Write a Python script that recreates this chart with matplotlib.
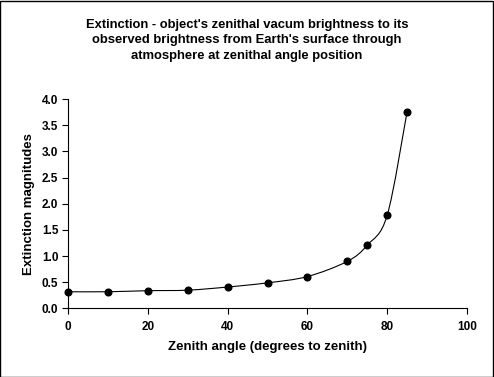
import numpy as np
import matplotlib.pyplot as plt
from matplotlib.path import Path
from matplotlib.patches import PathPatch, Rectangle

# data
zenith_angle = [0, 10, 20, 30, 40, 50, 60, 70, 75, 80, 85]
extinction = [0.32, 0.32, 0.34, 0.35, 0.41, 0.49, 0.61, 0.90, 1.21, 1.78, 3.76]

title = ("Extinction - object's zenithal vacum brightness to its\n"
         "observed brightness from Earth's surface through\n"
         "atmosphere at zenithal angle position")
x_label = "Zenith angle (degrees to zenith)"
y_label = "Extinction magnitudes"
x_ticks = [0, 20, 40, 60, 80, 100]
y_ticks = [0.0, 0.5, 1.0, 1.5, 2.0, 2.5, 3.0, 3.5, 4.0]

plt.rcParams["font.family"] = ["Liberation Sans", "DejaVu Sans"]
plt.rcParams["font.weight"] = "bold"


def smooth_path(xs, ys):
    """Catmull-Rom style cubic Bezier through the points (like a smoothed line)."""
    pts = np.column_stack([xs, ys]).astype(float)
    n = len(pts)
    verts = [pts[0]]
    codes = [Path.MOVETO]
    for i in range(n - 1):
        p0 = pts[i - 1] if i > 0 else pts[i]
        p1 = pts[i]
        p2 = pts[i + 1]
        p3 = pts[i + 2] if i + 2 < n else pts[i + 1]
        c1 = p1 + (p2 - p0) / 6.0
        c2 = p2 - (p3 - p1) / 6.0
        verts += [c1, c2, p2]
        codes += [Path.CURVE4] * 3
    return Path(verts, codes)


fig = plt.figure(figsize=(4.94, 3.77), dpi=100)
ax = fig.add_axes([0.1377, 0.1817, 0.8076, 0.5557])

ax.add_patch(PathPatch(smooth_path(zenith_angle, extinction), facecolor="none",
                       edgecolor="black", linewidth=0.8))
ax.plot(zenith_angle, extinction, linestyle="none", marker="o", markersize=4.8,
        color="black", clip_on=False, zorder=3)

ax.set_xlim(0, 100)
ax.set_ylim(0, 4.0)
ax.set_xticks(x_ticks)
ax.set_xticklabels([str(t) for t in x_ticks])
ax.set_yticks(y_ticks)
ax.set_yticklabels([f"{t:.1f}" for t in y_ticks])
ax.tick_params(direction="out", length=4, width=0.8, labelsize=8.5, pad=3)
ax.tick_params(axis="x", pad=5)

for s in ["top", "right"]:
    ax.spines[s].set_visible(False)
for s in ["left", "bottom"]:
    ax.spines[s].set_linewidth(0.8)

ax.set_xlabel(x_label, fontsize=9.5, fontweight="bold", labelpad=6)
ax.set_ylabel(y_label, fontsize=9.5, fontweight="bold", labelpad=5)

fig.text(0.5, 0.8926, title, ha="center", va="center", fontsize=9.4,
         fontweight="bold", linespacing=1.42)

# outer chart border
fig.patches.append(Rectangle((0.001, 0.001), 0.997, 0.997, transform=fig.transFigure,
                             fill=False, edgecolor="black", linewidth=1.0))

fig.savefig("out.png", dpi=100)
